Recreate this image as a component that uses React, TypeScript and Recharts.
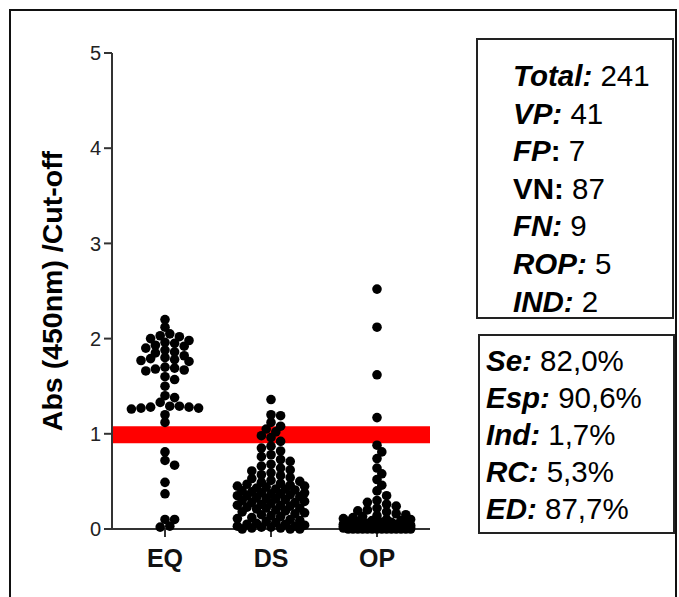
import { ScatterChart, Scatter, XAxis, YAxis, ReferenceArea } from 'recharts'

const categories = ['EQ', 'DS', 'OP']

const eqValues = [
  2.2, 2.12, 2.05, 2.03, 2.02, 2.0, 1.98, 1.96, 1.95, 1.93, 1.92, 1.9, 1.88, 1.86, 1.85,
  1.82, 1.8, 1.79, 1.78, 1.77, 1.76, 1.7, 1.69, 1.68, 1.67, 1.66, 1.6, 1.57, 1.5, 1.4,
  1.38, 1.33, 1.29, 1.29, 1.28, 1.28, 1.27, 1.27, 1.26, 1.2, 1.12,
  0.81, 0.72, 0.67, 0.49, 0.37, 0.1, 0.1, 0.02, 0.03,
]

const dsValues = [
  1.36, 1.2, 1.19, 1.12, 1.08, 1.05, 1.02,
  0.98, 0.96, 0.92, 0.87, 0.85, 0.82, 0.78, 0.76, 0.73, 0.71,
  0.68, 0.66, 0.64, 0.62, 0.61, 0.59, 0.57, 0.56, 0.54, 0.53, 0.51, 0.5,
  0.49, 0.48, 0.47, 0.46, 0.45, 0.45, 0.44, 0.43, 0.42, 0.42, 0.41, 0.4,
  0.39, 0.38, 0.38, 0.37, 0.37, 0.36, 0.35, 0.35, 0.34, 0.33, 0.32, 0.32, 0.31, 0.3,
  0.29, 0.28, 0.28, 0.27, 0.26, 0.25, 0.25, 0.24, 0.23, 0.22, 0.22, 0.21, 0.2,
  0.19, 0.18, 0.17, 0.16, 0.15, 0.14, 0.13, 0.12, 0.11, 0.1,
  0.09, 0.08, 0.07, 0.06, 0.05, 0.05, 0.04, 0.03, 0.03, 0.02, 0.02, 0.01, 0.01, 0.0, 0.0, 0.0,
]

const opValues = [
  2.52, 2.12, 1.62, 1.17,
  0.88, 0.81, 0.74, 0.64, 0.58, 0.52, 0.46, 0.4, 0.35, 0.3,
  0.28, 0.26, 0.24, 0.22, 0.2, 0.19, 0.18, 0.16, 0.15, 0.14, 0.13, 0.12, 0.11,
  0.1, 0.1, 0.09, 0.09, 0.08, 0.08, 0.07, 0.07,
  0.06, 0.06, 0.06, 0.05, 0.05, 0.05, 0.05, 0.05,
  0.04, 0.04, 0.04, 0.04, 0.04, 0.04, 0.04,
  0.03, 0.03, 0.03, 0.03, 0.03, 0.03, 0.03, 0.03, 0.03,
  0.02, 0.02, 0.02, 0.02, 0.02, 0.02, 0.02, 0.02, 0.02, 0.02, 0.02,
  0.01, 0.01, 0.01, 0.01, 0.01, 0.01, 0.01, 0.01, 0.01, 0.01, 0.01, 0.01,
  0.0, 0.0, 0.0, 0.0, 0.0, 0.0, 0.0, 0.0, 0.0, 0.0, 0.0, 0.0, 0.0, 0.0,
]

const yTicks = [0, 1, 2, 3, 4, 5]
const cutoffBand = [0.9, 1.08]

const countNames = ['Total', 'VP', 'FP', 'VN', 'FN', 'ROP', 'IND']
const countValues = ['241', '41', '7', '87', '9', '5', '2']
const countItalic = [true, true, true, false, true, true, true]
const countColonItalic = [true, true, false, false, true, true, true]

const rateNames = ['Se', 'Esp', 'Ind', 'RC', 'ED']
const rateValues = ['82,0%', '90,6%', '1,7%', '5,3%', '87,7%']

const FONT = "'Liberation Sans', Arial, sans-serif"

// beeswarm layout in pixel units, then mapped back to x data units
const PX_X = 106 // px per x unit (318px / 3 columns)
const PX_Y = 95.2 // px per y unit
const MIN_DIST = 7
const SLOT = 4.8
const MAX_HALF = 34

function swarm(values: number[], center: number) {
  const placed: { ox: number; py: number }[] = []
  const cands: number[] = []
  for (let k = -Math.floor(MAX_HALF / SLOT); k <= Math.floor(MAX_HALF / SLOT); k++) cands.push(k * SLOT)
  cands.sort((a, b) => Math.abs(a) - Math.abs(b) || b - a)
  const sorted = [...values].sort((a, b) => b - a)
  return sorted.map(v => {
    const py = v * PX_Y
    let best = 0
    let bestD = -1
    for (const ox of cands) {
      let d = Infinity
      for (const p of placed) {
        const dy = p.py - py
        if (Math.abs(dy) > MIN_DIST) continue
        d = Math.min(d, Math.hypot(p.ox - ox, dy))
      }
      if (d >= MIN_DIST) { best = ox; bestD = d; break }
      if (d > bestD) { bestD = d; best = ox }
    }
    placed.push({ ox: best, py })
    return { x: center + best / PX_X, y: v }
  })
}

const groups = [eqValues, dsValues, opValues].map((vals, i) => swarm(vals, i + 0.5))

const Dot = (p: any) => <circle cx={p.cx} cy={p.cy} r={4.8} fill="#000" />

const XTick = ({ x, y, payload }: any) => (
  <text x={x} y={y} dy="0.71em" textAnchor="middle" fontFamily={FONT} fontSize={25} fontWeight="bold" fill="#111">
    {categories[Math.floor(payload.value)]}
  </text>
)

const YTick = ({ x, y, payload }: any) => (
  <text x={x} y={y} dy="0.36em" textAnchor="end" fontFamily={FONT} fontSize={20} fill="#222">
    {payload.value}
  </text>
)

const YTitle = ({ viewBox }: any) => {
  const cx = 62
  const cy = viewBox && viewBox.height ? viewBox.y + viewBox.height / 2 : 291
  return (
    <text
      x={cx}
      y={cy}
      transform={`rotate(-90 ${cx} ${cy})`}
      textAnchor="middle"
      fontFamily={FONT}
      fontWeight="bold"
      fontSize={28.5}
      fill="#000"
    >
      Abs (450nm) /Cut-off
    </text>
  )
}

export default function App() {
  return (
    <div
      style={{
        position: 'absolute',
        left: 0,
        top: 0,
        width: 679,
        height: 597,
        overflow: 'hidden',
        background: '#fff',
        fontFamily: FONT,
      }}
    >
      <div
        style={{
          position: 'absolute',
          left: 9,
          top: 9,
          width: 664,
          height: 640,
          border: '2px solid #111',
        }}
      />
      <ScatterChart
        width={450}
        height={597}
        margin={{ top: 53, right: 20, bottom: 28, left: 0 }}
        style={{ position: 'absolute', left: 0, top: 0 }}
      >
        <XAxis
          type="number"
          dataKey="x"
          domain={[0, 3]}
          ticks={[0.5, 1.5, 2.5]}
          interval={0}
          height={40}
          tickSize={8}
          tickMargin={12}
          axisLine={{ stroke: '#333', strokeWidth: 2 }}
          tickLine={{ stroke: '#333', strokeWidth: 2 }}
          tick={<XTick />}
        />
        <YAxis
          type="number"
          dataKey="y"
          domain={[0, 5]}
          ticks={yTicks}
          interval={0}
          width={112}
          tickSize={8}
          tickMargin={3}
          axisLine={{ stroke: '#333', strokeWidth: 2 }}
          tickLine={{ stroke: '#333', strokeWidth: 2 }}
          tick={<YTick />}
          label={<YTitle />}
        />
        <ReferenceArea
          x1={0}
          x2={3}
          y1={cutoffBand[0]}
          y2={cutoffBand[1]}
          fill="#ff0000"
          fillOpacity={1}
          stroke="none"
        />
        {groups.map((pts, i) => (
          <Scatter key={categories[i]} data={pts} shape={Dot} isAnimationActive={false} />
        ))}
      </ScatterChart>
      <svg
        width={679}
        height={597}
        style={{ position: 'absolute', left: 0, top: 0 }}
        fontFamily={FONT}
        fontSize={29.5}
      >
        <rect x={477} y={39} width={196} height={279} fill="none" stroke="#222" strokeWidth={2} />
        {countNames.map((name, i) => (
          <text key={name} x={513} y={86 + i * 37.6} fill="#000" style={{ whiteSpace: 'pre' }}>
            <tspan fontWeight="bold" fontStyle={countItalic[i] ? 'italic' : 'normal'}>{name}</tspan>
            <tspan fontWeight="bold" fontStyle={countColonItalic[i] ? 'italic' : 'normal'}>:</tspan>
            <tspan>{' ' + countValues[i]}</tspan>
          </text>
        ))}
        <rect x={479} y={335} width={195} height={198} fill="none" stroke="#222" strokeWidth={2} />
        {rateNames.map((name, i) => (
          <text key={name} x={486} y={371 + i * 36.9} fill="#000" style={{ whiteSpace: 'pre' }}>
            <tspan fontWeight="bold" fontStyle="italic">{name + ':'}</tspan>
            <tspan>{' ' + rateValues[i]}</tspan>
          </text>
        ))}
      </svg>
    </div>
  )
}
